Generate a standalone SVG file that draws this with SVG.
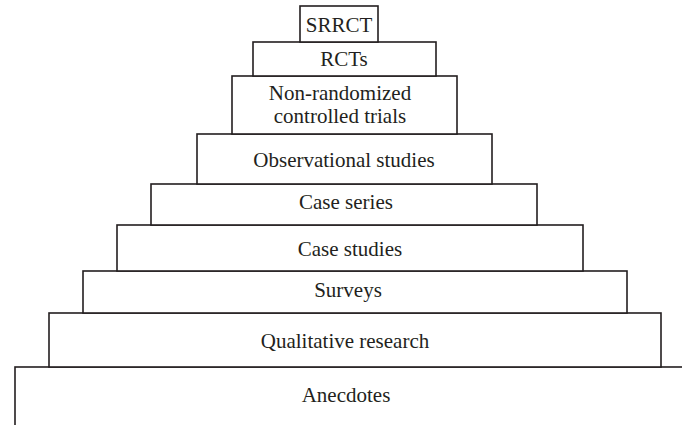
<svg xmlns="http://www.w3.org/2000/svg" width="682" height="425" viewBox="0 0 682 425">
<style>
.box{fill:#ffffff;stroke:#231f20;stroke-width:1.6}
.lbl{font-family:"Liberation Serif","Times New Roman",serif;font-size:21px;fill:#231f20;text-anchor:middle}
</style>
<rect width="682" height="425" fill="#ffffff"/>
<g id="connectors"></g>
<g id="anecdotes"><rect class="box" x="15" y="367" width="700" height="80"/><text class="lbl" x="346" y="402">Anecdotes</text></g>
<g id="qualitative"><rect class="box" x="49" y="313" width="612" height="54"/><text class="lbl" x="345" y="348">Qualitative research</text></g>
<g id="surveys"><rect class="box" x="83" y="271" width="544" height="42"/><text class="lbl" x="348" y="297">Surveys</text></g>
<g id="case-studies"><rect class="box" x="117" y="225" width="466" height="46"/><text class="lbl" x="350" y="255.5">Case studies</text></g>
<g id="case-series"><rect class="box" x="151" y="184" width="386" height="41"/><text class="lbl" x="346" y="209">Case series</text></g>
<g id="observational"><rect class="box" x="197" y="134" width="295" height="50"/><text class="lbl" x="344" y="166.5">Observational studies</text></g>
<g id="non-randomized"><rect class="box" x="232" y="76" width="225" height="58"/><text class="lbl" x="340" y="99.5">Non-randomized</text><text class="lbl" x="340" y="123">controlled trials</text></g>
<g id="rcts"><rect class="box" x="253" y="42" width="183" height="34"/><text class="lbl" x="344" y="66">RCTs</text></g>
<g id="srrct"><rect class="box" x="300" y="6" width="78" height="36"/><text class="lbl" x="339" y="31.5">SRRCT</text></g>
</svg>
